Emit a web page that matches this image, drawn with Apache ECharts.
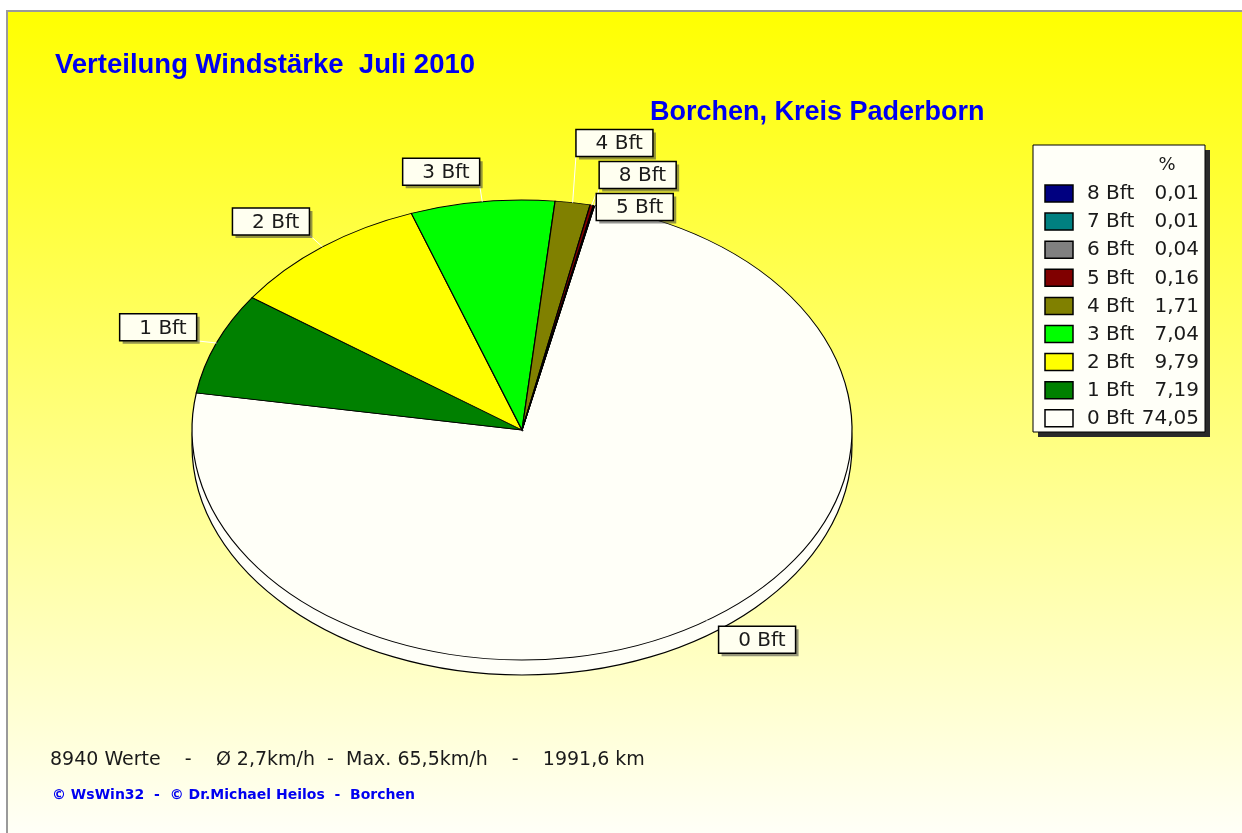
<!DOCTYPE html>
<html>
<head>
<meta charset="utf-8">
<title>Verteilung Windstärke Juli 2010</title>
<script src="https://cdn.jsdelivr.net/npm/echarts@6/dist/echarts.min.js"></script>
<style>
html, body { margin: 0; padding: 0; background: #fff; }
#main { width: 1242px; height: 833px; }
</style>
</head>
<body>
<div id="main"></div>
<script>
// data (percent of all values)
var categories = ['0 Bft', '1 Bft', '2 Bft', '3 Bft', '4 Bft', '5 Bft', '6 Bft', '7 Bft', '8 Bft'];
var shares = [74.05, 7.19, 9.79, 7.04, 1.71, 0.16, 0.04, 0.01, 0.01];
var sliceColors = ['#fffff8', '#008000', '#ffff00', '#00ff00', '#808000', '#800000', '#808080', '#008080', '#000080'];
var legendOrder = ['8 Bft', '7 Bft', '6 Bft', '5 Bft', '4 Bft', '3 Bft', '2 Bft', '1 Bft', '0 Bft'];
var labelled = ['0 Bft', '1 Bft', '2 Bft', '3 Bft', '4 Bft', '8 Bft', '5 Bft'];
var titleText = 'Verteilung Windstärke  Juli 2010';
var subtitleText = 'Borchen, Kreis Paderborn';
var statsLine = '8940 Werte    -    Ø 2,7km/h  -  Max. 65,5km/h    -    1991,6 km';
var creditLine = '© WsWin32  -  © Dr.Michael Heilos  -  Borchen';

var TITLE_FONT = 'Liberation Sans, Arial, sans-serif';
var TEXT_FONT = 'DejaVu Sans, Verdana, sans-serif';

// tilted pie geometry
var pie = { cx: 522, cy: 430, rx: 330, ry: 230, depth: 15, start: -77.3 };

function fmt(v) {
    return v.toFixed(2).replace('.', ',');
}

var total = shares.reduce(function (a, b) { return a + b; }, 0);
var angles = [];
(function () {
    var acc = 0;
    for (var i = 0; i < shares.length; i++) {
        var a0 = (pie.start + acc / total * 360) * Math.PI / 180;
        acc += shares[i];
        var a1 = (pie.start + acc / total * 360) * Math.PI / 180;
        angles.push([a0, a1]);
    }
})();

function ellipsePoint(a, kx, ky) {
    return [pie.cx + kx * pie.rx * Math.cos(a), pie.cy + (ky === undefined ? kx : ky) * pie.ry * Math.sin(a)];
}

// label boxes: put each beside its slice, then spread the ones that collide
var boxW = 77, boxH = 27, boxGap = 5;
var labelBoxes = {};
(function () {
    var list = [];
    labelled.forEach(function (name) {
        var i = categories.indexOf(name);
        var m = (angles[i][0] + angles[i][1]) / 2;
        var p = ellipsePoint(m, 1.065, 1.1);
        var x = Math.cos(m) < 0 ? p[0] - boxW : p[0];
        var cy = Math.sin(m) < 0 ? p[1] - 7 : p[1];
        list.push({ name: name, idx: i, mid: m, x: x, cy: cy });
    });
    var groups = [];
    list.forEach(function (b) {
        var hit = null;
        groups.forEach(function (g) {
            g.forEach(function (o) {
                if (Math.abs(o.x - b.x) < boxW && Math.abs(o.cy - b.cy) < boxH + boxGap) {
                    hit = g;
                }
            });
        });
        if (hit) { hit.push(b); } else { groups.push([b]); }
    });
    groups.forEach(function (g) {
        var mean = g.reduce(function (s, b) { return s + b.cy; }, 0) / g.length;
        g.forEach(function (b, j) {
            b.cy = mean + (j - (g.length - 1) / 2) * (boxH + boxGap);
        });
    });
    list.forEach(function (b) { labelBoxes[b.idx] = b; });
})();

function renderSlice(params, api) {
    var i = params.dataIndex;
    var children = [];
    if (i === 0) {
        // side of the pie (only the big slice is in front)
        children.push({
            type: 'ellipse',
            shape: { cx: pie.cx, cy: pie.cy + pie.depth, rx: pie.rx, ry: pie.ry },
            style: { fill: sliceColors[0], stroke: '#000', lineWidth: 1.2 },
            z2: 0
        });
    }
    children.push({
        type: 'sector',
        x: pie.cx,
        y: pie.cy,
        scaleY: pie.ry / pie.rx,
        shape: { cx: 0, cy: 0, r0: 0, r: pie.rx, startAngle: angles[i][0], endAngle: angles[i][1], clockwise: true },
        style: { fill: sliceColors[i], stroke: '#000', lineWidth: 1.2, strokeNoScale: true },
        z2: 2
    });
    var b = labelBoxes[i];
    if (b) {
        var edge = ellipsePoint(b.mid, 1.0);
        var top = b.cy - boxH / 2;
        var anchorX = Math.cos(b.mid) < 0 ? b.x + boxW : b.x;
        var anchorY = edge[1] > b.cy ? top + boxH : top;
        children.push({
            type: 'line',
            shape: { x1: edge[0], y1: edge[1], x2: anchorX, y2: anchorY },
            style: { stroke: '#ffffff', lineWidth: 1 },
            z2: 8
        });
        children.push({
            type: 'rect',
            shape: { x: b.x + 3, y: top + 3, width: boxW, height: boxH },
            style: { fill: 'rgba(60,60,60,0.55)' },
            z2: 9
        });
        children.push({
            type: 'rect',
            shape: { x: b.x, y: top, width: boxW, height: boxH },
            style: { fill: '#fffff0', stroke: '#000', lineWidth: 1.5 },
            z2: 10
        });
        children.push({
            type: 'text',
            x: b.x + boxW - 10,
            y: b.cy + 1,
            style: { text: categories[i], fill: '#1a1a1a', font: '20px ' + TEXT_FONT, align: 'right', verticalAlign: 'middle' },
            z2: 11
        });
    }
    return { type: 'group', children: children };
}

// legend box
var lg = { x: 1033, y: 145, w: 172, h: 287, row0: 193, rowH: 28.1 };
var legendChildren = [
    { type: 'rect', shape: { x: lg.x + 5, y: lg.y + 5, width: lg.w, height: lg.h }, style: { fill: '#2a2a2a' } },
    { type: 'rect', shape: { x: lg.x, y: lg.y, width: lg.w, height: lg.h }, style: { fill: '#fffff8', stroke: '#000', lineWidth: 1 } },
    { type: 'text', x: lg.x + 134, y: lg.y + 20, style: { text: '%', fill: '#1a1a1a', font: '18px ' + TEXT_FONT, align: 'center', verticalAlign: 'middle' } }
];
legendOrder.forEach(function (name, j) {
    var i = categories.indexOf(name);
    var ry = lg.row0 + j * lg.rowH;
    legendChildren.push({
        type: 'rect',
        shape: { x: lg.x + 12, y: ry - 8, width: 28, height: 17 },
        style: { fill: sliceColors[i], stroke: '#000', lineWidth: 1.5 }
    });
    legendChildren.push({
        type: 'text', x: lg.x + 54, y: ry + 1,
        style: { text: name, fill: '#1a1a1a', font: '20px ' + TEXT_FONT, verticalAlign: 'middle' }
    });
    legendChildren.push({
        type: 'text', x: lg.x + 166, y: ry + 1,
        style: { text: fmt(shares[i]), fill: '#1a1a1a', font: '20px ' + TEXT_FONT, align: 'right', verticalAlign: 'middle' }
    });
});

var chart = echarts.init(document.getElementById('main'), null, { renderer: 'canvas' });
chart.setOption({
    animation: false,
    backgroundColor: '#ffffff',
    title: [
        {
            text: titleText, left: 55, top: 51, padding: 0,
            textStyle: { color: '#0000f0', fontSize: 27.5, fontWeight: 'bold', fontFamily: TITLE_FONT }
        },
        {
            text: subtitleText, left: 650, top: 99, padding: 0,
            textStyle: { color: '#0000f0', fontSize: 27, fontWeight: 'bold', fontFamily: TITLE_FONT }
        }
    ],
    graphic: [
        {
            type: 'rect', z: -10, silent: true,
            shape: { x: 7, y: 11, width: 1245, height: 830 },
            style: {
                fill: new echarts.graphic.LinearGradient(0, 0, 0, 1, [
                    { offset: 0, color: '#ffff00' },
                    { offset: 1, color: '#fffffa' }
                ]),
                stroke: '#9a9a9a', lineWidth: 2
            }
        },
        { type: 'group', z: 5, silent: true, children: legendChildren },
        {
            type: 'text', left: 50, top: 751, silent: true,
            style: { text: statsLine, fill: '#1a1a1a', font: '19px ' + TEXT_FONT }
        },
        {
            type: 'text', left: 52, top: 788, silent: true,
            style: { text: creditLine, fill: '#0000f0', font: 'bold 14px ' + TEXT_FONT }
        }
    ],
    series: [
        {
            type: 'custom',
            name: 'Windstärke',
            coordinateSystem: 'none',
            silent: true,
            renderItem: renderSlice,
            data: shares.map(function (v, i) { return { name: categories[i], value: v }; })
        }
    ]
});
</script>
</body>
</html>
